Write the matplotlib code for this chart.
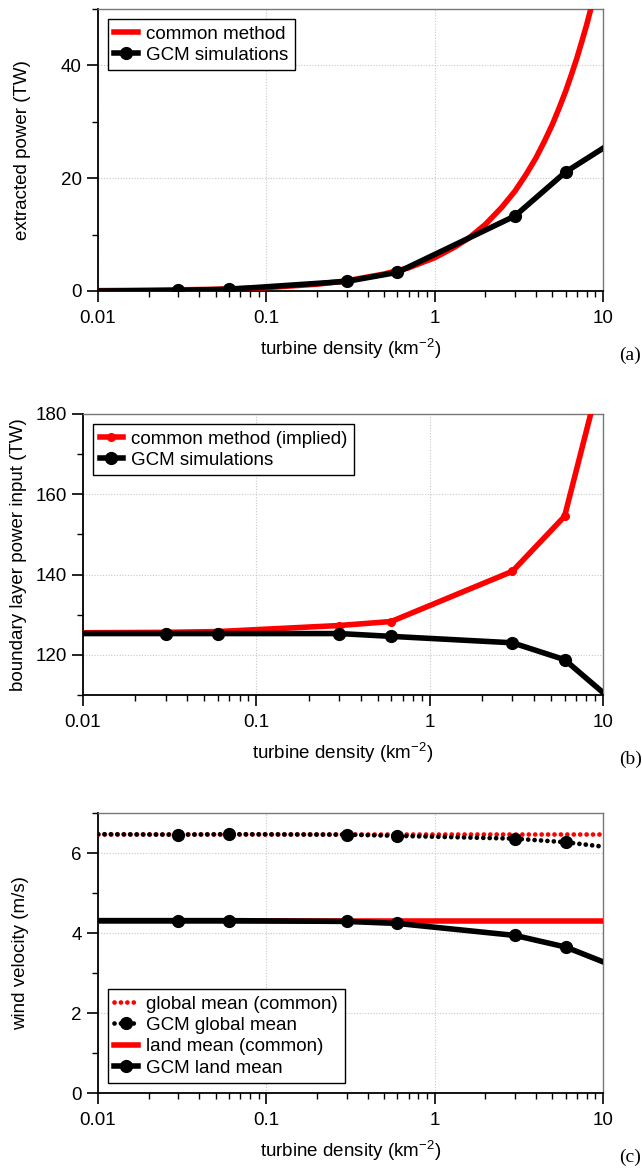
import matplotlib
matplotlib.use('Agg')
import matplotlib.pyplot as plt
from matplotlib.ticker import FixedLocator, LogLocator, NullFormatter, MultipleLocator

plt.rcParams['font.family'] = ['Liberation Sans', 'DejaVu Sans']

# turbine densities (km^-2) of the GCM runs; ends of the line carry no marker
density = [0.01, 0.03, 0.06, 0.3, 0.6, 3, 6, 10]

# (a) extracted power (TW)
gcm_power = [0.0, 0.1, 0.3, 1.7, 3.3, 13.3, 21.1, 25.3]
common_density = [0.01, 0.02, 0.05, 0.1, 0.2, 0.3, 0.5, 0.7, 1, 1.3, 1.6, 2, 2.5,
                  3, 3.5, 4, 4.5, 5, 5.5, 6, 6.5, 7, 7.5, 8, 8.5, 9, 10]
common_power = [0.06, 0.12, 0.3, 0.6, 1.2, 1.8, 3.0, 4.1, 5.9, 7.7, 9.4, 11.8, 14.8,
                17.7, 20.7, 23.6, 26.6, 29.5, 32.5, 35.4, 38.4, 41.3, 44.3, 47.2,
                50.2, 53.1, 59.0]

# (b) boundary layer power input (TW)
gcm_input = [125.3, 125.3, 125.3, 125.3, 124.6, 123.0, 118.8, 110.6]
common_input = [125.5, 125.6, 125.8, 127.3, 128.3, 140.8, 154.5, 192.0]

# (c) wind velocity (m/s)
common_global = [6.48, 6.48]
gcm_global = [6.47, 6.46, 6.47, 6.46, 6.43, 6.36, 6.27, 6.16]
common_land = [4.31, 4.31]
gcm_land = [4.31, 4.31, 4.31, 4.29, 4.24, 3.94, 3.65, 3.28]
flat_x = [0.01, 10]

RED = '#ff0000'
MARK = list(range(1, 7))
FS = 13.5
LW = 4.0
MS = 8.5


def style_axes(ax, ylim, major, minor):
    ax.set_xscale('log')
    ax.set_xlim(0.01, 10)
    ax.set_ylim(*ylim)
    ax.xaxis.set_major_locator(FixedLocator([0.01, 0.1, 1, 10]))
    ax.set_xticklabels(['0.01', '0.1', '1', '10'])
    ax.xaxis.set_minor_locator(LogLocator(base=10, subs=range(2, 10)))
    ax.xaxis.set_minor_formatter(NullFormatter())
    ax.yaxis.set_major_locator(MultipleLocator(major))
    ax.yaxis.set_minor_locator(MultipleLocator(minor))
    ax.grid(True, which='major', color='#c8c8c8', linestyle=(0, (1, 1.5)), linewidth=0.8)
    ax.tick_params(which='major', direction='out', length=8, width=1.2, labelsize=FS)
    ax.tick_params(which='minor', direction='out', length=4.5, width=1.0)
    ax.tick_params(axis='x', which='major', pad=5.5)
    ax.tick_params(axis='y', which='major', pad=3.5)
    for s in ('left', 'bottom'):
        ax.spines[s].set_linewidth(1.3)
    for s in ('top', 'right'):
        ax.spines[s].set_color('#777777')
        ax.spines[s].set_linewidth(1.0)
    ax.set_xlabel(r'turbine density (km$^{\mathregular{-2}}$)', fontsize=FS, labelpad=7)


fig = plt.figure(figsize=(6.42, 11.7), dpi=100)
ax1 = fig.add_axes([0.1526, 0.7513, 0.7866, 0.241])
ax2 = fig.add_axes([0.1293, 0.406, 0.81, 0.2402])
ax3 = fig.add_axes([0.1526, 0.0658, 0.7866, 0.2393])

# (a)
ax1.plot(common_density, common_power, color=RED, lw=LW, label='common method', zorder=3)
ax1.plot(density, gcm_power, color='black', lw=LW, marker='o', markersize=MS,
         markevery=MARK, label='GCM simulations', zorder=4)
style_axes(ax1, (0, 50), 20, 10)
ax1.set_ylabel('extracted power (TW)', fontsize=FS)
ax1.yaxis.set_label_coords(-0.133, 0.5)

# (b)
ax2.plot(density, common_input, color=RED, lw=LW, marker='o', markersize=5.5,
         markevery=MARK, label='common method (implied)', zorder=3)
ax2.plot(density, gcm_input, color='black', lw=LW, marker='o', markersize=MS,
         markevery=MARK, label='GCM simulations', zorder=4)
style_axes(ax2, (110, 180), 20, 10)
ax2.set_ylabel('boundary layer power input (TW)', fontsize=FS)
ax2.yaxis.set_label_coords(-0.108, 0.5)

# (c)
dots = (0, (0.01, 1.35))
ax3.plot(flat_x, common_global, color=RED, lw=3.4, linestyle=dots,
         dash_capstyle='round', label='global mean (common)', zorder=3)
ax3.plot(density, gcm_global, color='black', lw=3.4, linestyle=dots,
         dash_capstyle='round', marker='o', markersize=MS, markevery=MARK,
         label='GCM global mean', zorder=4)
ax3.plot(flat_x, common_land, color=RED, lw=LW, label='land mean (common)', zorder=3)
ax3.plot(density, gcm_land, color='black', lw=LW, marker='o', markersize=MS,
         markevery=MARK, label='GCM land mean', zorder=4)
style_axes(ax3, (0, 7), 2, 1)
ax3.set_ylabel('wind velocity (m/s)', fontsize=FS)
ax3.yaxis.set_label_coords(-0.137, 0.5)

leg_kw = dict(fontsize=FS, frameon=True, fancybox=False, framealpha=1,
              edgecolor='black', handlelength=1.25, handletextpad=0.45,
              borderpad=0.35, labelspacing=0.22, borderaxespad=0.53)
for ax, loc in ((ax1, 'upper left'), (ax2, 'upper left'), (ax3, 'lower left')):
    leg = ax.legend(loc=loc, **leg_kw)
    leg.get_frame().set_linewidth(1.0)
    for h in leg.legend_handles:
        h.set_markevery([1])

for ax, tag in ((ax1, '(a)'), (ax2, '(b)'), (ax3, '(c)')):
    ax.text(1.075, -0.228, tag, transform=ax.transAxes, ha='right', va='center',
            fontsize=14, family=['Liberation Serif', 'DejaVu Serif'])

fig.savefig('out.png', dpi=100)
plt.close(fig)
